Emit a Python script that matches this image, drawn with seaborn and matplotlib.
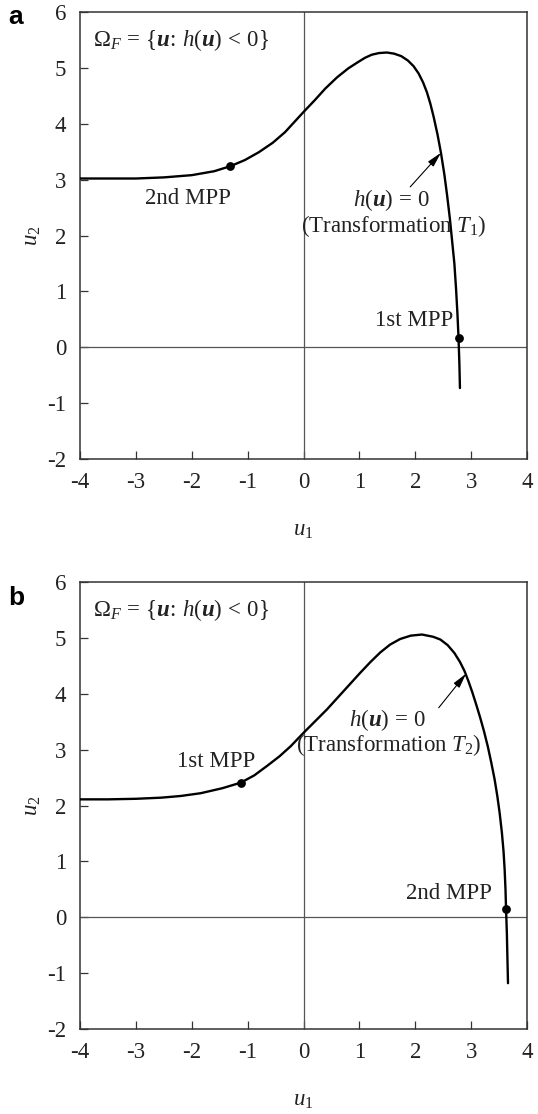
import matplotlib
matplotlib.use("Agg")
import matplotlib.pyplot as plt
import seaborn as sns
import pandas as pd

# ---------------- data ----------------
a_u1 = [-4.0, -3.5, -3.0, -2.5, -2.0, -1.6, -1.31, -1.05, -0.80, -0.55, -0.33, 0.0, 0.2, 0.39,
        0.60, 0.80, 0.97, 1.10, 1.22, 1.35, 1.49, 1.62, 1.75, 1.87, 1.97, 2.06, 2.14, 2.21,
        2.27, 2.33, 2.40, 2.46, 2.52, 2.57, 2.62, 2.66, 2.70, 2.73, 2.755, 2.775, 2.79, 2.80]
a_u2 = [3.02, 3.02, 3.02, 3.04, 3.08, 3.15, 3.24, 3.35, 3.49, 3.66, 3.85, 4.21, 4.42, 4.63,
        4.83, 4.99, 5.10, 5.18, 5.235, 5.265, 5.275, 5.255, 5.21, 5.13, 5.03, 4.90, 4.74, 4.56,
        4.36, 4.12, 3.80, 3.48, 3.10, 2.72, 2.30, 1.90, 1.50, 1.05, 0.60, 0.16, -0.30, -0.73]
a_mpp_u1 = [-1.31, 2.775]
a_mpp_u2 = [3.24, 0.16]
a_mpp_labels = ["2nd MPP", "1st MPP"]

b_u1 = [-4.0, -3.5, -3.0, -2.55, -2.2, -1.84, -1.45, -1.12, -0.88, -0.65, -0.43, -0.23, 0.0,
        0.2, 0.42, 0.72, 1.02, 1.20, 1.375, 1.55, 1.73, 1.92, 2.12, 2.32, 2.45, 2.58, 2.70,
        2.80, 2.88, 2.95, 3.02, 3.09, 3.16, 3.23, 3.30, 3.36, 3.42, 3.47, 3.51, 3.55, 3.58,
        3.60, 3.615, 3.625, 3.64, 3.65, 3.66]
b_u2 = [2.11, 2.11, 2.12, 2.14, 2.17, 2.22, 2.31, 2.41, 2.54, 2.71, 2.88, 3.06, 3.30,
        3.50, 3.72, 4.05, 4.38, 4.57, 4.74, 4.88, 4.98, 5.04, 5.06, 5.02, 4.97, 4.87, 4.73,
        4.57, 4.41, 4.23, 4.03, 3.81, 3.58, 3.33, 3.05, 2.77, 2.47, 2.16, 1.87, 1.52, 1.18,
        0.85, 0.50, 0.15, -0.30, -0.75, -1.18]
b_mpp_u1 = [-1.12, 3.625]
b_mpp_u2 = [2.41, 0.15]
b_mpp_labels = ["1st MPP", "2nd MPP"]

x_ticks = [-4, -3, -2, -1, 0, 1, 2, 3, 4]
y_ticks = [-2, -1, 0, 1, 2, 3, 4, 5, 6]

# ---------------- style ----------------
sns.set_style("ticks")
plt.rcParams["font.family"] = ["Liberation Serif", "DejaVu Serif"]
plt.rcParams["mathtext.fontset"] = "custom"
plt.rcParams["mathtext.rm"] = "Liberation Serif"
plt.rcParams["mathtext.it"] = "Liberation Serif:italic"
plt.rcParams["mathtext.bf"] = "Liberation Serif:bold"
plt.rcParams["mathtext.bfit"] = "Liberation Serif:bold:italic"

TXT = "#222222"
FS = 16.5

fig = plt.figure(figsize=(5.38, 11.14), dpi=100)
ax_a = fig.add_axes([80 / 538, 1 - 459 / 1114, 447 / 538, 447 / 1114])
ax_b = fig.add_axes([80 / 538, 1 - 1029 / 1114, 447 / 538, 447 / 1114])


def panel(ax, u1, u2, mu1, mu2):
    ax.axhline(0, color="#555555", lw=0.9, zorder=1)
    ax.axvline(0, color="#555555", lw=0.9, zorder=1)
    df = pd.DataFrame({"u1": u1, "u2": u2})
    sns.lineplot(data=df, x="u1", y="u2", sort=False, estimator=None, color="black",
                 lw=1.7, ax=ax, zorder=3)
    mdf = pd.DataFrame({"u1": mu1, "u2": mu2})
    sns.scatterplot(data=mdf, x="u1", y="u2", color="black", s=40, edgecolor="black",
                    linewidth=0, ax=ax, zorder=4)
    ax.set_xlim(-4, 4)
    ax.set_ylim(-2, 6)
    ax.set_xticks(x_ticks)
    ax.set_yticks(y_ticks)
    ax.set_xticklabels([str(t) for t in x_ticks])
    ax.set_yticklabels([str(t) for t in y_ticks])
    ax.tick_params(axis="both", direction="in", length=6, width=0.9, colors="#333333",
                   labelcolor=TXT, labelsize=FS, top=False, right=False)
    ax.tick_params(axis="x", pad=9)
    ax.tick_params(axis="y", pad=10)
    for s in ax.spines.values():
        s.set_visible(True)
        s.set_color("#333333")
        s.set_linewidth(1.1)
    ax.set_xlabel("$u_1$", fontsize=FS, color=TXT, labelpad=20)
    ax.set_ylabel("$u_2$", fontsize=FS, color=TXT, labelpad=3)
    ax.text(-3.76, 5.5, r"$\Omega_F \,=\, \{\mathbfit{u}\!:\, h(\mathbfit{u}) \,<\, 0\}$",
            fontsize=FS, color=TXT, va="center", ha="left")


panel(ax_a, a_u1, a_u2, a_mpp_u1, a_mpp_u2)
panel(ax_b, b_u1, b_u2, b_mpp_u1, b_mpp_u2)

arrow_kw = dict(arrowstyle="-|>,head_length=0.9,head_width=0.22",
                color="black", lw=0.8, shrinkA=0, shrinkB=0)

# panel a annotations
ax_a.text(-2.06, 2.67, a_mpp_labels[0], fontsize=FS, color=TXT, ha="center", va="center")
ax_a.text(2.68, 0.48, a_mpp_labels[1], fontsize=FS, color=TXT, ha="right", va="center")
ax_a.text(1.58, 2.63, r"$h(\mathbfit{u}) \,=\, 0$", fontsize=FS, color=TXT,
          ha="center", va="center")
ax_a.text(1.61, 2.17, r"(Transformation $T_1$)", fontsize=FS, color=TXT,
          ha="center", va="center")
ax_a.annotate("", xy=(2.46, 3.48), xytext=(1.91, 2.87), arrowprops=arrow_kw)

# panel b annotations
ax_b.text(-1.57, 2.79, b_mpp_labels[0], fontsize=FS, color=TXT, ha="center", va="center")
ax_b.text(3.37, 0.43, b_mpp_labels[1], fontsize=FS, color=TXT, ha="right", va="center")
ax_b.text(1.50, 3.53, r"$h(\mathbfit{u}) \,=\, 0$", fontsize=FS, color=TXT,
          ha="center", va="center")
ax_b.text(1.52, 3.08, r"(Transformation $T_2$)", fontsize=FS, color=TXT,
          ha="center", va="center")
ax_b.annotate("", xy=(2.91, 4.36), xytext=(2.42, 3.75), arrowprops=arrow_kw)

fig.text(16 / 538, 1 - 17 / 1114, "a", fontsize=19, fontweight="bold",
         family=["Liberation Sans", "DejaVu Sans"], ha="center", va="center", color="black")
fig.text(16 / 538, 1 - 598 / 1114, "b", fontsize=19, fontweight="bold",
         family=["Liberation Sans", "DejaVu Sans"], ha="center", va="center", color="black")

fig.savefig("out.png", dpi=100, facecolor="white")
